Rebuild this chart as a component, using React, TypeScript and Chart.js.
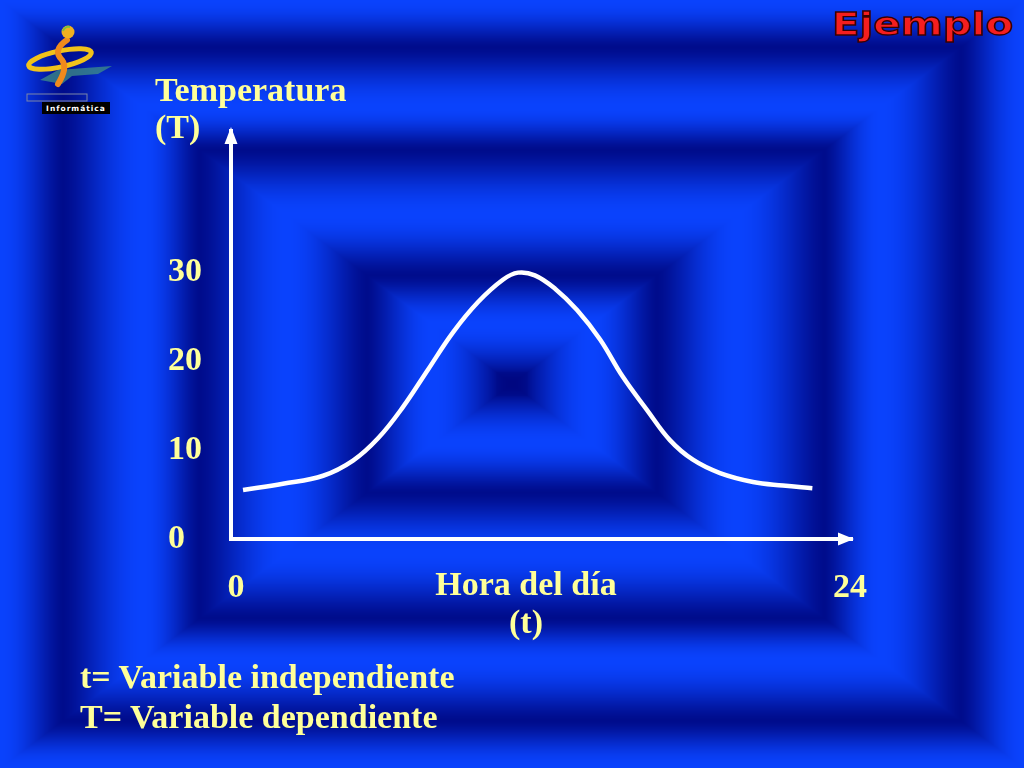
import React, { useEffect, useRef } from "react";
import { Chart, registerables } from "chart.js";

Chart.register(...registerables);

// ---- data ----
const hours = [0.27, 1.83, 3.4, 4.57, 5.55, 6.52, 7.5, 8.48, 9.46, 10.43, 11.02, 11.68, 12.47, 13.33, 14.23, 15.12, 16.06, 16.96, 17.86, 18.92, 20.21, 21.38, 22.53];
const temperatures = [5.5, 6.2, 7.1, 8.8, 11.3, 14.8, 19.0, 23.2, 26.6, 29.1, 29.9, 29.6, 28.1, 25.7, 22.4, 18.2, 14.5, 11.1, 8.9, 7.4, 6.4, 6.0, 5.7];
const yTickValues = [0, 10, 20, 30];
const xTickValues = [0, 24];

const yTitleLines = ["Temperatura", "(T)"];
const xTitleLines = ["Hora del día", "(t)"];
const noteLines = ["t= Variable independiente", "T= Variable dependiente"];
const slideTitle = "Ejemplo";

const FONT = '"Liberation Serif", "Times New Roman", serif';
const CREAM = "#ffff99";

// rectangular (concentric) slide gradient: [distance, brightness]
const bgStops: [number, number][] = [
  [0, -0.1], [0.154, 1], [0.283, 0], [0.44, 1], [0.61, 0], [0.72, 1], [0.877, 0], [1, 1],
];
const DARK = [0, 12, 140];
const BRIGHT = [10, 66, 252];

function bandValue(d: number) {
  for (let i = 1; i < bgStops.length; i++) {
    const [d0, v0] = bgStops[i - 1];
    const [d1, v1] = bgStops[i];
    if (d <= d1) {
      const f = (d - d0) / (d1 - d0);
      const s = (1 - Math.cos(Math.PI * f)) / 2;
      return v0 + (v1 - v0) * s;
    }
  }
  return bgStops[bgStops.length - 1][1];
}

let bgCache: ImageData | null = null;

const backgroundPlugin = {
  id: "slideBackground",
  beforeDraw(chart: any) {
    const ctx: CanvasRenderingContext2D = chart.ctx;
    const w = chart.canvas.width;
    const h = chart.canvas.height;
    if (!bgCache || bgCache.width !== w || bgCache.height !== h) {
      const img = ctx.createImageData(w, h);
      const cx = w / 2;
      const cy = h / 2;
      for (let y = 0; y < h; y++) {
        const dy = Math.abs(y + 0.5 - cy) / cy;
        for (let x = 0; x < w; x++) {
          const dx = Math.abs(x + 0.5 - cx) / cx;
          let v = bandValue(Math.max(dx, dy));
          v = v > 0 ? Math.pow(v, 0.7) : v;
          const k = (y * w + x) * 4;
          for (let c = 0; c < 3; c++) {
            img.data[k + c] = Math.max(0, Math.min(255, DARK[c] + (BRIGHT[c] - DARK[c]) * v));
          }
          img.data[k + 3] = 255;
        }
      }
      bgCache = img;
    }
    ctx.putImageData(bgCache, 0, 0);
  },
};

const arrowPlugin = {
  id: "axisArrows",
  afterDraw(chart: any) {
    const ctx: CanvasRenderingContext2D = chart.ctx;
    const { left, top, right, bottom } = chart.chartArea;
    ctx.save();
    ctx.fillStyle = "#ffffff";
    ctx.beginPath();
    ctx.moveTo(left, top - 4);
    ctx.lineTo(left - 6.5, top + 13);
    ctx.lineTo(left + 6.5, top + 13);
    ctx.closePath();
    ctx.fill();
    ctx.beginPath();
    ctx.moveTo(right + 2, bottom);
    ctx.lineTo(right - 14, bottom - 6.5);
    ctx.lineTo(right - 14, bottom + 6.5);
    ctx.closePath();
    ctx.fill();
    ctx.restore();
  },
};

function Logo() {
  return (
    <svg width={130} height={125} viewBox="0 0 130 125" style={{ position: "absolute", left: 0, top: 0 }}>
      <path d="M40 80 L58 70 L112 66 L98 74 L72 76 L62 84 Z" fill="#3f8f86" opacity={0.75} />
      <ellipse cx={60} cy={59} rx={32} ry={8} transform="rotate(-12 60 59)" fill="none" stroke="#f2c21a" strokeWidth={5} />
      <path d="M67 40 Q52 50 62 60 Q68 68 58 84" fill="none" stroke="#f08a1c" strokeWidth={6} strokeLinecap="round" />
      <circle cx={68} cy={32} r={6.5} fill="#f0b020" />
      <path d="M63 31 A6 6 0 0 1 70 27" fill="none" stroke="#7cc040" strokeWidth={2} />
      <rect x={27} y={94} width={60} height={7} fill="none" stroke="#7d86a8" strokeWidth={1} />
      <rect x={42} y={102} width={68} height={12} fill="#000" />
      <text x={76} y={111} textAnchor="middle" fill="#fff" fontFamily="DejaVu Sans, sans-serif" fontWeight="bold" fontSize={7.5} letterSpacing={1}>
        Informática
      </text>
    </svg>
  );
}

export default function App() {
  const canvasRef = useRef<HTMLCanvasElement | null>(null);

  useEffect(() => {
    const canvas = canvasRef.current;
    if (!canvas) return;
    const tickFont = { family: FONT, size: 34, weight: "bold" as const, lineHeight: 1.2 };
    const chart = new Chart(canvas, {
      type: "line",
      data: {
        datasets: [
          {
            data: hours.map((h, i) => ({ x: h, y: temperatures[i] })),
            borderColor: "#ffffff",
            borderWidth: 4.5,
            pointRadius: 0,
            fill: false,
            tension: 0.4,
            clip: false as any,
          },
        ],
      },
      options: {
        animation: false,
        responsive: false,
        devicePixelRatio: 1,
        layout: { padding: { left: 168, top: 131, right: 172, bottom: 0 } },
        plugins: { legend: { display: false }, tooltip: { enabled: false }, title: { display: false } },
        scales: {
          x: {
            type: "linear",
            min: -0.2,
            max: 24.08,
            grid: { display: false, drawTicks: false },
            border: { display: true, color: "#ffffff", width: 4 },
            afterBuildTicks: (s: any) => {
              s.ticks = xTickValues.map((v) => ({ value: v }));
            },
            afterFit: (s: any) => {
              s.height = 229;
            },
            ticks: { color: CREAM, font: tickFont, padding: 29, maxRotation: 0, autoSkip: false },
          },
          y: {
            type: "linear",
            min: 0,
            max: 45.8,
            grid: { display: false, drawTicks: false },
            border: { display: true, color: "#ffffff", width: 4 },
            afterBuildTicks: (s: any) => {
              s.ticks = yTickValues.map((v) => ({ value: v }));
            },
            afterFit: (s: any) => {
              s.width = 63;
            },
            ticks: { color: CREAM, font: tickFont, padding: 0, crossAlign: "far", autoSkip: false },
          },
        },
      },
      plugins: [backgroundPlugin, arrowPlugin],
    });
    return () => chart.destroy();
  }, []);

  const textBase: React.CSSProperties = {
    position: "absolute",
    fontFamily: FONT,
    fontWeight: "bold",
    fontSize: 34,
    color: CREAM,
    whiteSpace: "nowrap",
  };

  return (
    <div style={{ position: "fixed", left: 0, top: 0, width: 1024, height: 768, overflow: "hidden" }}>
      <canvas ref={canvasRef} width={1024} height={768} style={{ display: "block", width: 1024, height: 768 }} />
      <Logo />
      <div
        style={{
          position: "absolute",
          left: 832,
          top: 4,
          fontFamily: '"DejaVu Sans", sans-serif',
          fontWeight: "bold",
          fontSize: 32,
          lineHeight: "40px",
          color: "#f51e1e",
          WebkitTextStroke: "1.3px #3a0000",
          whiteSpace: "nowrap",
          transform: "scaleX(1.26)",
          transformOrigin: "0 0",
        }}
      >
        {slideTitle}
      </div>
      <div style={{ ...textBase, left: 155, top: 71, lineHeight: "37px" }}>
        {yTitleLines.map((l) => (
          <div key={l}>{l}</div>
        ))}
      </div>
      <div style={{ ...textBase, left: 376, width: 300, top: 564.5, lineHeight: "38px", textAlign: "center" }}>
        {xTitleLines.map((l) => (
          <div key={l}>{l}</div>
        ))}
      </div>
      <div style={{ ...textBase, left: 80, top: 657, lineHeight: "39.5px" }}>
        {noteLines.map((l) => (
          <div key={l}>{l}</div>
        ))}
      </div>
    </div>
  );
}
